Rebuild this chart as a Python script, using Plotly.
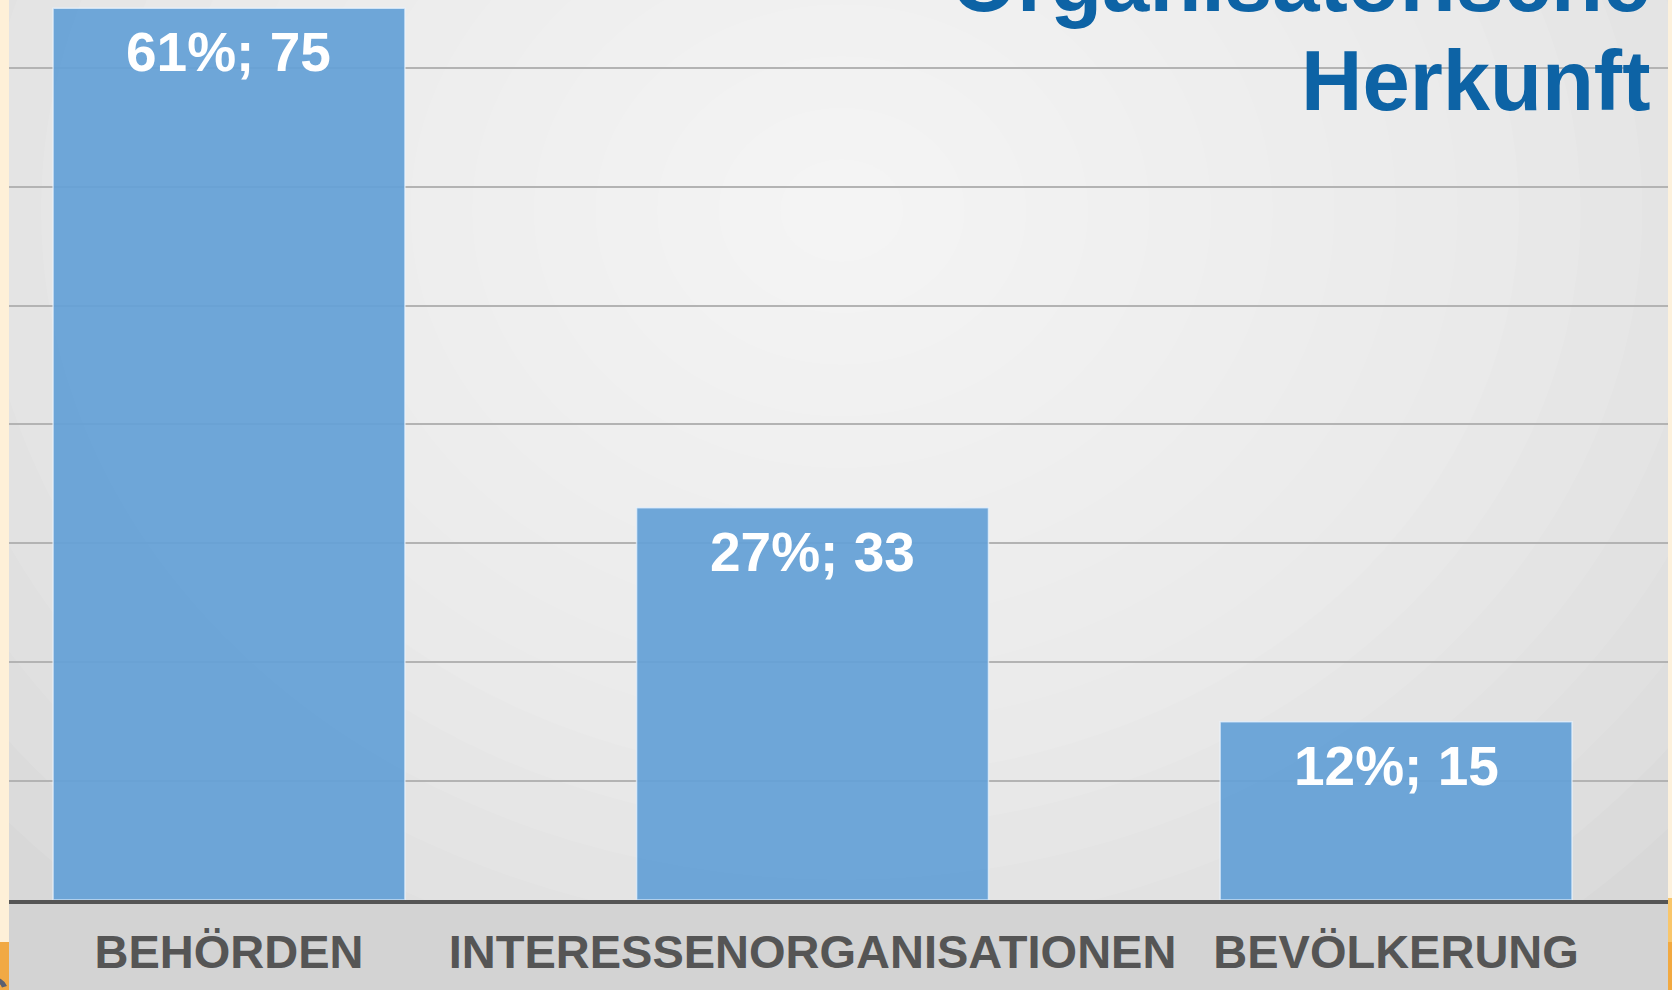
import plotly.graph_objects as go

# ---- data ----
categories = ["BEHÖRDEN", "INTERESSENORGANISATIONEN", "BEVÖLKERUNG"]
percentages = [61, 27, 12]
counts = [75, 33, 15]
title_lines = ["Organisatorische", "Herkunft"]

W, H = 1672, 990
ML, MR, MT, MB = 9, 4, 0, 90
PW = W - ML - MR
PH = H - MT - MB

X_RANGE = [-0.377, 2.466]
Y_RANGE = [0, 75.7]

FONT = "Liberation Sans, Arial, Helvetica, sans-serif"

labels = [f"{p}%; {n}" for p, n in zip(percentages, counts)]

fig = go.Figure()
fig.add_trace(go.Bar(
    x=categories,
    y=counts,
    marker=dict(color="rgba(100,160,214,0.93)",
                line=dict(color="rgba(235,245,255,0.7)", width=1.5)),
    hoverinfo="skip",
))

# value labels inside the top of each bar
annotations = []
for c, v, t in zip(categories, counts, labels):
    annotations.append(dict(
        x=c, y=v, xref="x", yref="y", text=t, showarrow=False,
        yanchor="middle", xanchor="center", yshift=-44,
        font=dict(family=FONT, size=55, color="white", weight="bold"),
    ))

def px_to_paper_x(px):
    return (px - ML) / PW

def py_to_paper_y(py):
    return (MT + PH - py) / PH

# title (first line cut off at the top edge, as in the source)
annotations.append(dict(
    x=px_to_paper_x(1652), y=py_to_paper_y(-18), xref="paper", yref="paper",
    text=title_lines[0], showarrow=False, xanchor="right", yanchor="middle",
    font=dict(family=FONT, size=85, color="#0D63A5", weight="bold"),
))
annotations.append(dict(
    x=px_to_paper_x(1652), y=py_to_paper_y(81), xref="paper", yref="paper",
    text=title_lines[1], showarrow=False, xanchor="right", yanchor="middle",
    font=dict(family=FONT, size=85, color="#0D63A5", weight="bold"),
))
# partial letter at the bottom-left slide edge
annotations.append(dict(
    x=px_to_paper_x(11), y=py_to_paper_y(962), xref="paper", yref="paper",
    text="C", showarrow=False, xanchor="right", yanchor="top",
    font=dict(family=FONT, size=56, color="#5b6070"),
))

shapes = []
# soft radial-ish light gradient in plot background
cx, cy = 1.05, 58.0
Rx, Ry = 1.9, 78.0
N = 18
for k in range(N):
    f = 1 - k / N
    shapes.append(dict(
        type="circle", xref="x", yref="y", layer="below",
        x0=cx - Rx * f, x1=cx + Rx * f, y0=cy - Ry * f, y1=cy + Ry * f,
        fillcolor="rgba(255,255,255,0.085)", line=dict(width=0),
    ))

# slide edge strips
lx0, lx1 = px_to_paper_x(0), 0
rx0, rx1 = 1, px_to_paper_x(W)
yb = py_to_paper_y(H)
y942 = py_to_paper_y(942)
y898 = py_to_paper_y(898)
shapes += [
    dict(type="rect", xref="paper", yref="paper", x0=lx0, x1=lx1, y0=y942, y1=1.0,
         fillcolor="#FEF0D8", line=dict(width=0), layer="above"),
    dict(type="rect", xref="paper", yref="paper", x0=lx0, x1=lx1, y0=yb, y1=y942,
         fillcolor="#F1A944", line=dict(width=0), layer="above"),
    dict(type="rect", xref="paper", yref="paper", x0=rx0, x1=rx1, y0=y898, y1=1.0,
         fillcolor="#FDF1DC", line=dict(width=0), layer="above"),
    dict(type="rect", xref="paper", yref="paper", x0=rx0, x1=rx1, y0=y942, y1=y898,
         fillcolor="#F9C66A", line=dict(width=0), layer="above"),
    dict(type="rect", xref="paper", yref="paper", x0=rx0, x1=rx1, y0=yb, y1=y942,
         fillcolor="#F2A940", line=dict(width=0), layer="above"),
]

fig.update_layout(
    width=W, height=H,
    margin=dict(l=ML, r=MR, t=MT, b=MB, pad=0),
    paper_bgcolor="#d3d3d3",
    plot_bgcolor="#d8d8d8",
    showlegend=False,
    bargap=0.397,
    annotations=annotations,
    shapes=shapes,
    xaxis=dict(
        type="category", range=X_RANGE, showgrid=False,
        showline=True, linecolor="#555555", linewidth=4,
        ticks="", tickfont=dict(family=FONT, size=47, color="#555555", weight="bold"),
        ticklabelstandoff=8,
        fixedrange=True,
    ),
    yaxis=dict(
        range=Y_RANGE, dtick=10, showticklabels=False,
        showgrid=True, gridcolor="#b3b3b3", gridwidth=2,
        zeroline=False, showline=False, fixedrange=True,
    ),
)

fig.write_html(
    "out.html",
    config={"displayModeBar": False},
    post_script="document.body.style.margin='0';document.body.style.overflow='hidden';",
)
